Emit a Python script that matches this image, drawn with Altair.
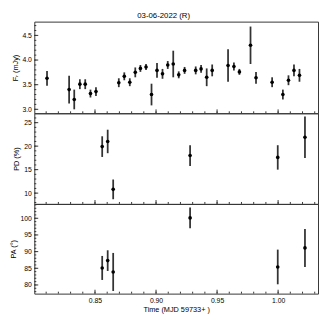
import altair as alt
import pandas as pd
import numpy as np

# ---- data ----
flux_t = [0.8107, 0.8288, 0.8330, 0.8376, 0.8420, 0.8463, 0.8508, 0.8695, 0.8740,
          0.8785, 0.8830, 0.8872, 0.8918, 0.8963, 0.9008, 0.9053, 0.9096, 0.9141,
          0.9186, 0.9234, 0.9325, 0.9369, 0.9415, 0.9460, 0.9590, 0.9638, 0.9683,
          0.9774, 0.9819, 0.9951, 1.0039, 1.0085, 1.0130, 1.0175]
flux_v = [3.63, 3.40, 3.20, 3.51, 3.51, 3.32, 3.36, 3.54, 3.67, 3.55, 3.75, 3.83,
          3.86, 3.30, 3.79, 3.72, 3.90, 3.92, 3.70, 3.79, 3.79, 3.82, 3.65, 3.79,
          3.89, 3.87, 3.76, 4.30, 3.64, 3.55, 3.30, 3.59, 3.79, 3.69]
flux_e = [0.15, 0.28, 0.20, 0.10, 0.10, 0.08, 0.09, 0.09, 0.08, 0.08, 0.10, 0.07,
          0.06, 0.22, 0.15, 0.10, 0.08, 0.27, 0.07, 0.07, 0.08, 0.08, 0.18, 0.12,
          0.33, 0.08, 0.06, 0.38, 0.12, 0.10, 0.10, 0.10, 0.12, 0.13]

pol_t = [0.8559, 0.8604, 0.8649, 0.9279, 0.9997, 1.0220]
pd_v = [19.9, 21.0, 10.8, 18.0, 17.6, 21.9]
pd_e = [2.2, 2.5, 2.1, 2.2, 2.6, 4.4]
pa_v = [85.1, 87.3, 83.9, 100.1, 85.4, 91.1]
pa_e = [3.6, 3.1, 5.7, 3.1, 5.2, 5.7]

x_domain = [0.8003, 1.0327]
x_major = [0.85, 0.90, 0.95, 1.00]
x_minor = [round(v, 2) for v in np.arange(0.81, 1.031, 0.01)]

flux_domain = [2.92, 4.78]
flux_major = [3.0, 3.5, 4.0, 4.5]
flux_minor = [round(v, 1) for v in np.arange(3.0, 4.71, 0.1)]

pd_domain = [7.7, 27.0]
pd_major = [10, 15, 20, 25]
pd_minor = list(range(8, 27))

pa_domain = [77.4, 104.3]
pa_major = [80, 85, 90, 95, 100]
pa_minor = list(range(78, 105))

W = 291
FRAME = "#333333"
FONT = "Liberation Sans"


def panel(t, v, e, ydomain, major, minor, ytitle, fmt, h, show_x):
    df = pd.DataFrame({"t": t, "v": v, "e": e})
    df["lo"] = df["v"] - df["e"]
    df["hi"] = df["v"] + df["e"]
    xs = alt.Scale(domain=x_domain, nice=False, zero=False)
    ys = alt.Scale(domain=ydomain, nice=False, zero=False)
    if show_x:
        xaxis = alt.Axis(values=x_major, format=".2f", ticks=False, domain=False,
                         grid=False, labelPadding=3, title="Time (MJD 59733+ )",
                         titlePadding=2)
    else:
        xaxis = None
    yaxis = alt.Axis(values=major, format=fmt, ticks=False, domain=False, grid=False,
                     labelPadding=3, title=ytitle, titlePadding=3)

    def X(f):
        return alt.X(f, scale=xs, axis=xaxis)

    def Y(f):
        return alt.Y(f, scale=ys, axis=yaxis)

    bars = alt.Chart(df).mark_rule(color=FRAME, strokeWidth=1.8).encode(
        x=X("t:Q"), y=Y("lo:Q"), y2="hi:Q",
    )
    pts = alt.Chart(df).mark_point(filled=True, color="black", size=14, opacity=1).encode(
        x=X("t:Q"), y=Y("v:Q"),
    )
    ymaj = alt.Chart(pd.DataFrame({"tick": major})).mark_rule(color=FRAME, strokeWidth=1).encode(
        y=Y("tick:Q"), x=alt.value(0), x2=alt.value(4))
    ymin = alt.Chart(pd.DataFrame({"tick": minor})).mark_rule(color=FRAME, strokeWidth=1).encode(
        y=Y("tick:Q"), x=alt.value(0), x2=alt.value(2))
    xmaj = alt.Chart(pd.DataFrame({"tick": x_major})).mark_rule(color=FRAME, strokeWidth=1).encode(
        x=X("tick:Q"), y=alt.value(h), y2=alt.value(h - 4))
    xmin = alt.Chart(pd.DataFrame({"tick": x_minor})).mark_rule(color=FRAME, strokeWidth=1).encode(
        x=X("tick:Q"), y=alt.value(h), y2=alt.value(h - 2))
    return alt.layer(bars, pts, ymaj, ymin, xmaj, xmin).properties(width=W, height=h)


p1 = panel(flux_t, flux_v, flux_e, flux_domain, flux_major, flux_minor,
           "F\u1d63 (mJy)", ".1f", 94, False)
p2 = panel(pol_t, pd_v, pd_e, pd_domain, pd_major, pd_minor, "PD (%)", "d", 93, False)
p3 = panel(pol_t, pa_v, pa_e, pa_domain, pa_major, pa_minor, "PA (\u00b0)", "d", 92, True)

chart = alt.vconcat(p1, p2, p3, spacing=0, bounds="flush").properties(
    title=alt.TitleParams("03-06-2022  (R)", fontSize=8, fontWeight="normal",
                          font=FONT, anchor="middle", offset=1, color="black"),
    padding={"left": 0, "top": 0, "right": 0, "bottom": 0},
).configure_view(
    stroke=FRAME, strokeWidth=1
).configure_concat(
    spacing=0
).configure_axis(
    labelFont=FONT, titleFont=FONT, labelFontSize=7, titleFontSize=7.5,
    titleFontWeight="normal", labelColor="black", titleColor="black"
)

chart.save("out.html", embed_options={"renderer": "svg", "actions": False})
